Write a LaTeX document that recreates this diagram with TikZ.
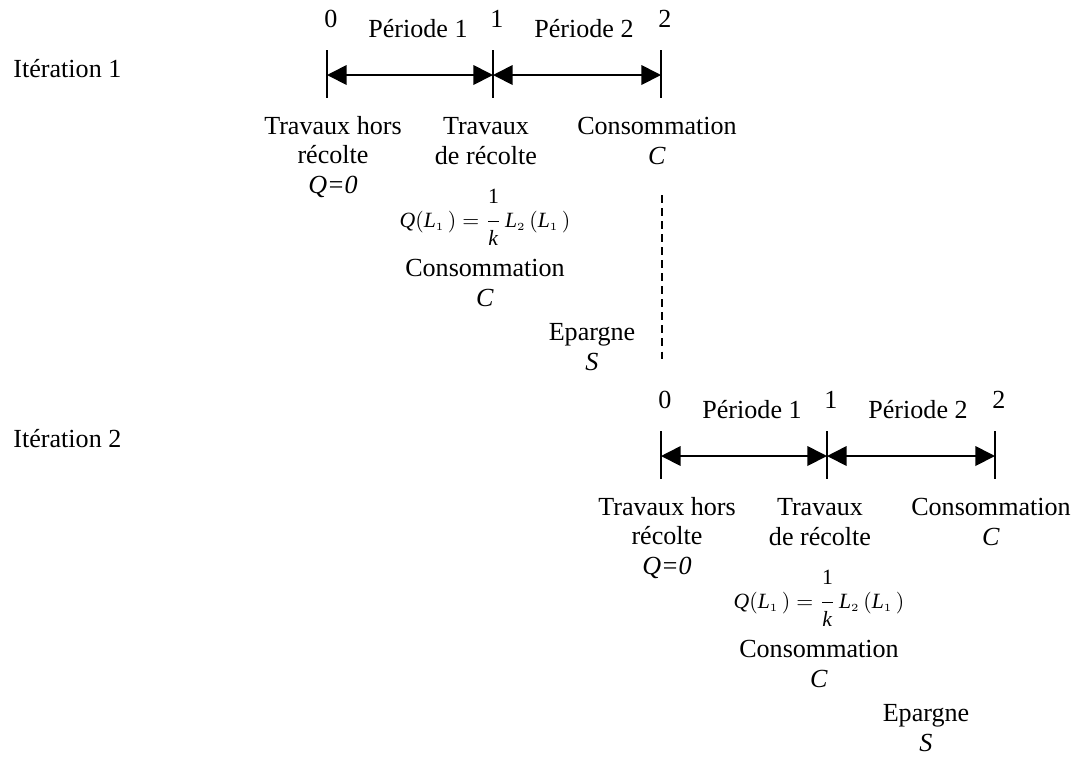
\documentclass[tikz,border=0pt]{standalone}
\usepackage{fontspec}
\setmainfont{Liberation Serif}
\usetikzlibrary{arrows.meta}
\tikzset{
  txt/.style={inner sep=0pt,align=center,anchor=base,font=\fontsize{12pt}{13.5pt}\selectfont},
  formula/.style={inner sep=0pt,anchor=base,font=\fontsize{10pt}{12pt}\selectfont},
  tickline/.style={line width=0.6pt},
  span/.style={{Triangle[length=9pt,width=9pt]}-{Triangle[length=9pt,width=9pt]},line width=0.8pt},
  split/.style={dash pattern=on 3.5pt off 2.5pt,line width=0.6pt}
}
\newcommand{\sub}[1]{_{\scriptscriptstyle #1}\,}

\begin{document}
\begin{tikzpicture}[x=0.46pt,y=-0.46pt]
  \useasboundingbox (0,0) rectangle (1079,756);
  \foreach \n/\dx/\dy/\ly in {1/0/0/77,2/334/381/447}{
    \node[txt,anchor=base west] (iter\n) at (13,\ly) {Itération \n};
    \begin{scope}[shift={(\dx,\dy)}]
      \foreach \k/\x in {0/327,1/493,2/661}{
        \coordinate (top\n\k) at (\x,50);
        \coordinate (bot\n\k) at (\x,98);
        \coordinate (mid\n\k) at (\x,75);
        \draw[tickline] (top\n\k) -- (bot\n\k);
        \node[txt] (num\n\k) at ({\x+4},27) {\k};
      }
      \node[txt] (per\n1) at (418,37) {Période 1};
      \node[txt] (per\n2) at (584,37) {Période 2};
      \draw[span] (mid\n0) -- (mid\n1);
      \draw[span] (mid\n1) -- (mid\n2);
      % base = last line
      \node[txt] (hors\n) at (333,193) {Travaux hors\\récolte\\\textit{Q=0}};
      \node[txt] (recolte\n) at (486,164) {Travaux\\de récolte};
      \node[txt] (conso\n) at (657,164) {Consommation\\\textit{C}};
      \node[formula] (prod\n) at (485,227)
        {$\textit{Q}(\textit{L}\sub{1}) = {\displaystyle\frac{\raisebox{4pt}{1}}{\raisebox{-1.5pt}{\textit{k}}}}\,\textit{L}\sub{2}(\textit{L}\sub{1})$};
      \node[txt] (consob\n) at (485,306) {Consommation\\\textit{C}};
      \node[txt] (epargne\n) at (592,370) {Epargne\\\textit{S}};
    \end{scope}
  }
  \coordinate (splittop) at (662,195);
  \coordinate (splitbot) at (662,363);
  \draw[split] (splittop) -- (splitbot);
\end{tikzpicture}
\end{document}
